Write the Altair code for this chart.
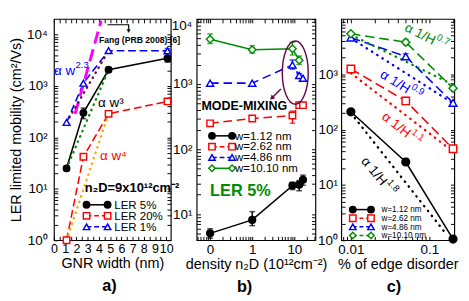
import altair as alt
import pandas as pd

FONT = "Liberation Sans"
BLACK, RED, BLUE, GREEN = "#000000", "#ff0000", "#0000ff", "#008b00"
MAGENTA, ORANGE, MAROON = "#ff00ff", "#ffa500", "#670748"

# ---------------- a) mobility vs GNR width (n2D = 9e12 cm^-2) ----------------
gnr_width = [1.12, 2.62, 4.86, 10.10]
a_ler5 = [25, 300, 2060, 3450]
a_ler5_lo = [22, 231, 1850, 2900]
a_ler5_hi = [28, 371, 2250, 4400]
a_ler20 = [1.0, 42, 287, 500]
a_ler20_lo = [1.0, 42, 287, 450]
a_ler20_hi = [1.0, 42, 287, 560]
a_ler1 = [195, 1130, 4850, 4800]
a_ler1_lo = [195, 1130, 4850, 4350]
a_ler1_hi = [195, 1130, 4850, 5350]
# guide lines (end points)
fang_w, fang_mu = [1.88, 4.2], [287, 18500]
fit23_w, fit23_mu = [1.12, 4.86], [195, 4850]
fit3_w, fit3_mu = [1.12, 4.86], [25, 2060]
fit4_w, fit4_mu = [1.12, 4.86], [1.0, 287]
fang_arrow_w, fang_arrow_mu = [4.77, 6.65, 6.65], [15460, 15460, 12500]

# ---------------- b) mobility vs carrier density (LER 5%) ----------------
density = [0, 1, 9, 13, 16]
b_w112 = [5.1, 8.2, 27.6, 28.5, 33.9]
b_w112_lo = [4.3, 6.7, 24, 23, 28]
b_w112_hi = [6.0, 11, 31, 33, 40]
b_w262 = [250, 296, 330, 475, 475]
b_w262_lo = [250, 296, 250, 475, 475]
b_w262_hi = [250, 296, 385, 475, 475]
b_w486 = [1035, 1035, 1970, 1360, 1230]
b_w486_lo = [1035, 1035, 1700, 1250, 1230]
b_w486_hi = [1035, 1035, 2350, 1450, 1230]
density_w1010 = [0, 1, 9, 13]
b_w1010 = [4900, 3380, 3500, 2330]
b_w1010_lo = [4200, 3000, 2800, 2000]
b_w1010_hi = [5900, 3900, 4400, 2700]
mix_arrow_n, mix_arrow_mu = [4.81, 3.0], [843, 622]

# ---------------- c) mobility vs % of edge disorder ----------------
edge_pct = [0.01, 0.05, 0.2]
c_w112 = [210, 26, 1.05]
c_w112_lo = [210, 23, 1.05]
c_w112_hi = [210, 30, 1.05]
c_w262 = [1250, 330, 45]
c_w262_lo = [1250, 290, 45]
c_w262_hi = [1250, 380, 45]
c_w486 = [4600, 2100, 305]
c_w486_lo = [4600, 1900, 305]
c_w486_hi = [4600, 2350, 305]
c_w1010 = [5400, 3800, 560]
c_w1010_lo = [5400, 3400, 560]
c_w1010_hi = [5400, 4300, 560]
fit07_h, fit07_mu = [0.01, 0.2], [5200, 650]
fit09_h, fit09_mu = [0.01, 0.2], [4500, 300]
fit11_h, fit11_mu = [0.01, 0.18], [1050, 45]
fit18_h, fit18_mu = [0.01, 0.16], [200, 1.35]

POW10 = ("datum.value == 1 ? '10⁰' : datum.value == 10 ? '10¹' : datum.value == 100 ? '10²' : "
         "datum.value == 1000 ? '10³' : datum.value == 10000 ? '10⁴' : ''")
POW10_C = ("datum.value == 1 ? '10⁰' : datum.value == 10 ? '10¹' : datum.value == 100 ? '10²' : "
           "datum.value == 1000 ? '10³' : ''")


def log_ticks(e0, e1, lo, hi):
    out = []
    for e in range(e0, e1 + 1):
        for m in range(1, 10):
            v = round(m * 10.0 ** e, 6)
            if lo <= v <= hi:
                out.append(v)
    return out


def axis(orient, values, label_expr=None, title=None, label_size=13, label_pad=3,
         title_pad=2, flush=False, labels=True, title_size=15):
    kw = dict(orient=orient, values=values, offset=-4, tickSize=4, tickWidth=1, tickColor="black",
              domain=False, grid=False, labels=labels, labelOverlap=False, labelFlush=flush,
              labelFont=FONT, labelFontSize=label_size, labelColor="black", labelPadding=label_pad)
    if label_expr:
        kw["labelExpr"] = label_expr
    if title:
        kw.update(title=title, titleFont=FONT, titleFontSize=title_size, titleFontWeight="normal",
                  titleColor="black", titlePadding=title_pad)
    else:
        kw["title"] = None
    return alt.Axis(**kw)


def XY(xsc, ysc):
    return dict(x=alt.X("x:Q", scale=xsc, axis=None), y=alt.Y("y:Q", scale=ysc, axis=None))


def series(xs, ys, lo, hi, xsc, ysc, color, shape, filled, dash=None, size=50, lw=1.6, cap=6):
    df = pd.DataFrame({"x": xs, "y": ys, "lo": lo, "hi": hi})
    base = alt.Chart(df)
    lkw = {"strokeDash": dash} if dash else {}
    line = base.mark_line(color=color, strokeWidth=lw, **lkw).encode(**XY(xsc, ysc))
    errs = []
    edf = df[df.lo != df.hi]
    if len(edf):
        eb = alt.Chart(edf)
        xe = alt.X("x:Q", scale=xsc, axis=None)
        errs.append(eb.mark_rule(color=color, strokeWidth=1.5).encode(
            x=xe, y=alt.Y("lo:Q", scale=ysc, axis=None), y2="hi:Q"))
        for f in ("lo", "hi"):
            errs.append(eb.mark_tick(orient="horizontal", size=cap, thickness=1.5, color=color).encode(
                x=xe, y=alt.Y(f"{f}:Q", scale=ysc, axis=None)))
    pts = base.mark_point(shape=shape, size=size, filled=True, fill=color if filled else "white",
                          stroke=color, strokeWidth=1.5, opacity=1).encode(**XY(xsc, ysc))
    return line, errs, pts


def guide(xs, ys, xsc, ysc, color, dash, lw=2.4, cap="round"):
    df = pd.DataFrame({"x": xs, "y": ys})
    return alt.Chart(df).mark_line(color=color, strokeWidth=lw, strokeDash=dash, strokeCap=cap).encode(
        **XY(xsc, ysc))


def note(text, x, y, xsc, ysc, **mk):
    df = pd.DataFrame({"x": [x], "y": [y], "t": [text]})
    return alt.Chart(df).mark_text(font=FONT, **mk).encode(**XY(xsc, ysc), text="t:N")


def note_sup(base, sup, x, y, xsc, ysc, color, dx_base, dx_sup, angle=None, size=14, sup_size=10,
             dy_sup=-6):
    df = pd.DataFrame({"x": [x], "y": [y], "b": [base], "s": [sup]})
    c = alt.Chart(df)
    akw = {"angle": angle} if angle else {}
    t1 = c.mark_text(font=FONT, fontSize=size, align="left", baseline="middle", dx=dx_base,
                     color=color, **akw).encode(**XY(xsc, ysc), text="b:N")
    t2 = c.mark_text(font=FONT, fontSize=sup_size, align="left", baseline="middle", dx=dx_sup,
                     dy=dy_sup, color=color, **akw).encode(**XY(xsc, ysc), text="s:N")
    return [t1, t2]


def legend_rows(entries, x0, x1, xt, y0, dy, fsize, msize):
    out = []
    for i, (label, color, shape, filled, dash) in enumerate(entries):
        py = y0 + i * dy
        c = alt.Chart(pd.DataFrame({"t": [label]}))
        lkw = {"strokeDash": dash} if dash else {}
        out.append(c.mark_rule(color=color, strokeWidth=1.6, **lkw).encode(
            x=alt.value(x0), x2=alt.value(x1), y=alt.value(py)))
        for px in (x0, x1):
            out.append(c.mark_point(shape=shape, size=msize, filled=True,
                                    fill=color if filled else "white", stroke=color,
                                    strokeWidth=1.5, opacity=1).encode(x=alt.value(px), y=alt.value(py)))
        out.append(c.mark_text(align="left", baseline="middle", fontSize=fsize, font=FONT,
                               color="black").encode(x=alt.value(xt), y=alt.value(py), text="t:N"))
    return out


def tag(text, px, py):
    return alt.Chart(pd.DataFrame({"t": [text]})).mark_text(
        fontSize=17, fontWeight="bold", font=FONT, color="black").encode(
        x=alt.value(px), y=alt.value(py), text="t:N")


def panel(xsc, ysc, xaxis, yaxis, xvals, yvals, frame_df, layers, width, height=231):
    ax = alt.Chart(frame_df).mark_point(opacity=0).encode(
        x=alt.X("x:Q", scale=xsc, axis=xaxis), y=alt.Y("y:Q", scale=ysc, axis=yaxis))
    mirror = alt.Chart(frame_df).mark_point(opacity=0).encode(
        x=alt.X("x:Q", scale=xsc, axis=axis("top", xvals, labels=False)),
        y=alt.Y("y:Q", scale=ysc, axis=axis("right", yvals, labels=False)))
    return alt.layer(ax, mirror, *layers).resolve_axis(
        x="independent", y="independent").properties(width=width, height=height)


# ================= panel a =================
xa = alt.Scale(domain=[0, 10.4], nice=False, zero=False)
ya = alt.Scale(type="log", domain=[1, 20000], nice=False)
xa_vals = [i * 0.5 for i in range(0, 21)]
ya_vals = log_ticks(0, 4, 1, 10000)
sa = [
    series(gnr_width, a_ler5, a_ler5_lo, a_ler5_hi, xa, ya, BLACK, "circle", True, None, 45),
    series(gnr_width, a_ler20, a_ler20_lo, a_ler20_hi, xa, ya, RED, "square", False, [8, 4], 45),
    series(gnr_width, a_ler1, a_ler1_lo, a_ler1_hi, xa, ya, BLUE, "triangle-up", False, [8, 4], 50),
]
fang_df = pd.DataFrame({"x": fang_arrow_w, "y": fang_arrow_mu, "i": [0, 1, 2]})
layers_a = [s[0] for s in sa] + [
    guide(fang_w, fang_mu, xa, ya, MAGENTA, [13, 6], lw=3, cap="butt"),
    guide(fit23_w, fit23_mu, xa, ya, MAROON, [0.5, 5.5]),
    guide(fit3_w, fit3_mu, xa, ya, GREEN, [0.5, 5.5]),
    guide(fit4_w, fit4_mu, xa, ya, ORANGE, [0.5, 5.5]),
] + [e for s in sa for e in s[1]] + [s[2] for s in sa] + [
    alt.Chart(fang_df).mark_line(color=BLACK, strokeWidth=1.2).encode(**XY(xa, ya), order="i:Q"),
    note("▼", 6.65, 11800, xa, ya, fontSize=7, color=BLACK),
    note("Fang (PRB 2008) [6]", 4.0, 7800, xa, ya, fontSize=9, fontWeight="bold", align="left", color=BLACK),
    note("α w³", 3.92, 460, xa, ya, fontSize=14, align="left", color=BLACK),
    note("α w⁴", 4.09, 43, xa, ya, fontSize=14, align="left", color=RED),
    note("n₂D=9x10¹²cm⁻²", 2.73, 10.5, xa, ya, fontSize=13.5, fontWeight="bold", align="left", color=BLACK),
] + note_sup("α w", "2.3", 0.0, 1970, xa, ya, BLUE, 0, 22.5) + legend_rows(
    [("LER 5%", BLACK, "circle", True, None),
     ("LER 20%", RED, "square", False, [5, 3]),
     ("LER 1%", BLUE, "triangle-up", False, [5, 3])],
    34, 56, 63, 194, 11.5, 12, 45) + [tag("a)", 58, 279)]

pa = panel(xa, ya,
           axis("bottom", xa_vals, "datum.value % 1 == 0 ? format(datum.value, 'd') : ''", "GNR width (nm)",
                label_size=13, label_pad=3, title_pad=1),
           axis("left", ya_vals, POW10, "LER limited mobility (cm²/Vs)", label_size=14, label_pad=7,
                title_pad=3),
           xa_vals, ya_vals, pd.DataFrame({"x": gnr_width, "y": a_ler5}), layers_a, 122)

# ================= panel b =================
xb = alt.Scale(type="log", domain=[0.048, 31.6], nice=False)
yb = alt.Scale(type="log", domain=[4, 10000], nice=False)
xb_vals = log_ticks(-2, 1, 0.048, 31.6)
yb_vals = log_ticks(0, 4, 5, 10000)
# zero density is drawn at the 0.1 position of the log axis (labelled "0")
dens_pos = [d if d > 0 else 0.1 for d in density]
dens_pos_g = [d if d > 0 else 0.1 for d in density_w1010]
sb = [
    series(dens_pos, b_w112, b_w112_lo, b_w112_hi, xb, yb, BLACK, "circle", True, None, 50),
    series(dens_pos, b_w262, b_w262_lo, b_w262_hi, xb, yb, RED, "square", False, [9, 5], 45),
    series(dens_pos, b_w486, b_w486_lo, b_w486_hi, xb, yb, BLUE, "triangle-up", False, [9, 5], 55),
    series(dens_pos_g, b_w1010, b_w1010_lo, b_w1010_hi, xb, yb, GREEN, "diamond", False, None, 60),
]
ellipse_path = "M-0.41,0A0.41,1,0,1,0,0.41,0A0.41,1,0,1,0,-0.41,0Z"
ell_df = pd.DataFrame({"x": [10.5], "y": [1500]})
layers_b = [s[0] for s in sb] + [e for s in sb for e in s[1]] + [s[2] for s in sb] + [
    alt.Chart(ell_df).mark_point(shape=ellipse_path, size=4356, filled=False, stroke=MAROON,
                                 strokeWidth=1.5, opacity=1).encode(**XY(xb, yb)),
    guide(mix_arrow_n, mix_arrow_mu, xb, yb, MAROON, [1, 0], lw=1.5, cap="butt"),
    alt.Chart(pd.DataFrame({"x": [mix_arrow_n[1]], "y": [mix_arrow_mu[1]]})).mark_point(
        shape="triangle", size=30, angle=225, filled=True, color=MAROON, opacity=1).encode(**XY(xb, yb)),
    note("MODE-MIXING", 0.0625, 459, xb, yb, fontSize=13, fontWeight="bold", align="left", color=BLACK),
    note("LER 5%", 0.1, 22.5, xb, yb, fontSize=17, fontWeight="bold", align="left", color=GREEN),
] + legend_rows([("w=1.12 nm", BLACK, "circle", True, None),
                 ("w=2.62 nm", RED, "square", False, [5, 3]),
                 ("w=4.86 nm", BLUE, "triangle-up", False, [5, 3]),
                 ("w=10.10 nm", GREEN, "diamond", False, None)],
                16, 37, 40, 122, 11.3, 12, 45) + [tag("b)", 50, 280)]

pb = panel(xb, yb,
           axis("bottom", xb_vals,
                "datum.value == 0.1 ? '0' : datum.value == 1 ? '1' : datum.value == 10 ? '10' : ''",
                "density n₂D (10¹²cm⁻²)", label_size=14, label_pad=3, title_pad=1),
           axis("left", yb_vals, POW10, None, label_size=14, label_pad=5, flush=True),
           xb_vals, yb_vals, pd.DataFrame({"x": dens_pos, "y": b_w486}), layers_b, 124)

# ================= panel c =================
xc = alt.Scale(type="log", domain=[0.00755, 0.2075], nice=False)
yc = alt.Scale(type="log", domain=[1, 10000], nice=False)
xc_vals = log_ticks(-3, -1, 0.00755, 0.2075)
yc_vals = log_ticks(0, 3, 1, 9000)
sc = [
    series(edge_pct, c_w112, c_w112_lo, c_w112_hi, xc, yc, BLACK, "circle", True, None, 65),
    series(edge_pct, c_w262, c_w262_lo, c_w262_hi, xc, yc, RED, "square", False, [10, 5], 60),
    series(edge_pct, c_w486, c_w486_lo, c_w486_hi, xc, yc, BLUE, "triangle-up", False, [10, 5], 65),
    series(edge_pct, c_w1010, c_w1010_lo, c_w1010_hi, xc, yc, GREEN, "diamond", False, [10, 5], 70),
]
layers_c = [s[0] for s in sc] + [
    guide(fit07_h, fit07_mu, xc, yc, GREEN, [0.5, 6]),
    guide(fit09_h, fit09_mu, xc, yc, BLUE, [0.5, 6]),
    guide(fit11_h, fit11_mu, xc, yc, RED, [0.5, 6]),
    guide(fit18_h, fit18_mu, xc, yc, BLACK, [0.5, 6]),
] + [e for s in sc for e in s[1]] + [s[2] for s in sc] \
    + note_sup("α 1/H", "0.7", 0.0893, 4690, xc, yc, GREEN, -23.5, 10.8, angle=27) \
    + note_sup("α 1/H", "0.9", 0.0427, 631, xc, yc, BLUE, -23.5, 10.8, angle=32) \
    + note_sup("α 1/H", "1.1", 0.0435, 102, xc, yc, RED, -23.5, 10.8, angle=38) \
    + note_sup("α 1/H", "1.8", 0.0221, 14.3, xc, yc, BLACK, -23.5, 10.8, angle=50) \
    + legend_rows([("w=1.12 nm", BLACK, "circle", True, None),
                   ("w=2.62 nm", RED, "square", False, [4, 3]),
                   ("w=4.86 nm", BLUE, "triangle-up", False, [4, 3]),
                   ("w=10.10 nm", GREEN, "diamond", False, [4, 3])],
                  12, 31, 42, 199, 9, 8.5, 45) + [tag("c)", 55, 280)]

pc = panel(xc, yc,
           axis("bottom", xc_vals, "datum.value == 0.01 ? '0.01' : datum.value == 0.1 ? '0.1' : ''",
                "% of edge disorder", label_size=14, label_pad=3, title_pad=1),
           axis("left", yc_vals, POW10_C, None, label_size=14, label_pad=4),
           xc_vals, yc_vals, pd.DataFrame({"x": edge_pct, "y": c_w486}), layers_c, 118)

chart = alt.hconcat(pa, pb, pc, spacing=27, bounds="flush").properties(
    padding={"left": 0, "top": 0, "right": 0, "bottom": 0}
).configure(font=FONT).configure_view(stroke="black", strokeWidth=1.2)

chart.save("out.html", embed_options={"renderer": "svg", "actions": False})
